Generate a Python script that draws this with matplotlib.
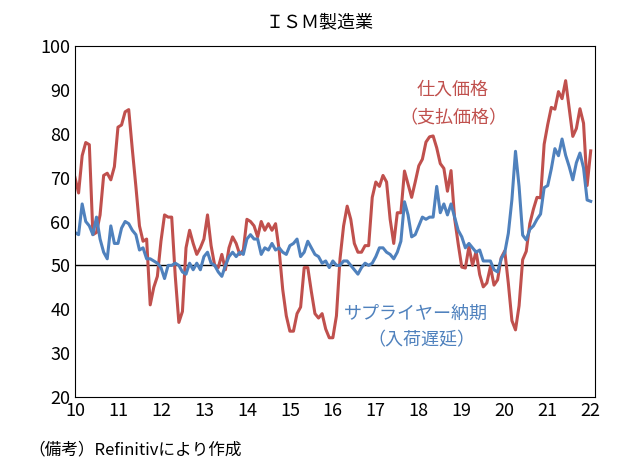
import matplotlib
matplotlib.use("Agg")
import matplotlib.pyplot as plt
import numpy as np

plt.rcParams['font.family'] = ['Noto Sans CJK JP', 'DejaVu Sans']

prices = [70,66.5,75,78,77.5,57,57.5,61.5,70.5,71,69.5,72.5,
          81.5,82,85,85.5,76.5,68,59,55.5,56,41,45,47.5,
          55.5,61.5,61,61,47.5,37,39.5,54,58,55,52.5,54,
          56,61.5,54.5,50,49.5,52.5,49,54,56.5,55,52.5,53.5,
          60.5,60,59,56.5,60,58,59.5,58,59.5,53.5,44.5,38.5,
          35,35,39,40.5,49.5,49.5,44,39,38,39,35.5,33.5,
          33.5,38.5,51.5,59,63.5,60.5,55,53,53,54.5,54.5,65.5,
          69,68,70.5,69,60.5,55,62,62,71.5,68.5,65.5,69,
          72.7,74.2,78.1,79.3,79.5,76.8,73.2,72.1,66.9,71.6,60.7,54.9,
          49.6,49.4,54.3,50.0,53.2,47.9,45.1,46.0,49.7,45.5,46.7,51.7,
          53.3,45.9,37.4,35.3,40.8,51.3,53.2,59.5,62.8,65.5,65.4,77.6,
          82.1,86,85.6,89.6,88,92.1,85.7,79.4,81.2,85.7,82.4,68.2,
          76.1]
deliveries = [57.5,57,64,60,59,57,61,56,53,51.5,59,55,
              55,58.5,60,59.5,58,57,53.5,54,51.5,51.5,51,50.5,
              49.5,47,50,50,50.5,50,48.5,48,50.5,49,50.5,49,
              52,53,50.5,50,48.5,47.5,50,52,53,52,53,52.5,
              56,57,56,56,52.5,54,53.5,55,53.5,54,53,52.5,
              54.5,55,56,52,53,55.5,54,52.5,52,50.5,51,49.5,
              51,50,50,51,51,50,49,48,49.5,50.5,50,50.5,
              52,54,54,53,52.5,51.5,53,55.5,64.5,61.5,56.5,57,
              59,61,60.5,61,61,68,62,64,61.5,64,61,58,
              56.5,54,55,54,53,53.5,51,51,51,49,48.5,51.5,
              52.9,57.3,65,76,68,56.9,55.8,58.2,59,60.5,61.7,67.7,
              68.2,72,76.6,75,78.8,75.1,72.5,69.5,73.4,75.6,72.2,64.9,
              64.6]
start_year = 10
xticks = list(range(10, 23))

x = start_year + np.arange(len(prices)) / 12.0
red = '#c0504d'; blue = '#4f81bd'

fig = plt.figure(figsize=(6.4, 4.73), dpi=100)
ax = fig.add_axes([75/640, 1-397/473, 520/640, 351/473])
ax.axhline(50, color='black', lw=1)
ax.plot(x, prices, color=red, lw=2.2)
ax.plot(x, deliveries, color=blue, lw=2.2)
ax.set_xlim(10, 22.1)
ax.set_ylim(20, 100)
ax.set_xticks(xticks)
ax.set_yticks(range(20, 101, 10))
ax.tick_params(labelsize=13, direction='in', length=0)
for s in ax.spines.values():
    s.set_linewidth(0.8)
fig.text(0.5, 1-22/473, 'ＩＳＭ製造業', ha='center', va='center', fontsize=13)
ax.text(17.95, 90, '仕入価格', color=red, fontsize=13, ha='left', va='center')
ax.text(17.55, 83.5, '（支払価格）', color=red, fontsize=13, ha='left', va='center')
ax.text(16.25, 39, 'サプライヤー納期', color=blue, fontsize=13, ha='left', va='center')
ax.text(16.8, 33, '（入荷遅延）', color=blue, fontsize=13, ha='left', va='center')
fig.text(28/640, 1-450/473, '（備考）Refinitivにより作成', fontsize=12, ha='left', va='center')
fig.savefig('out.png', dpi=100)
